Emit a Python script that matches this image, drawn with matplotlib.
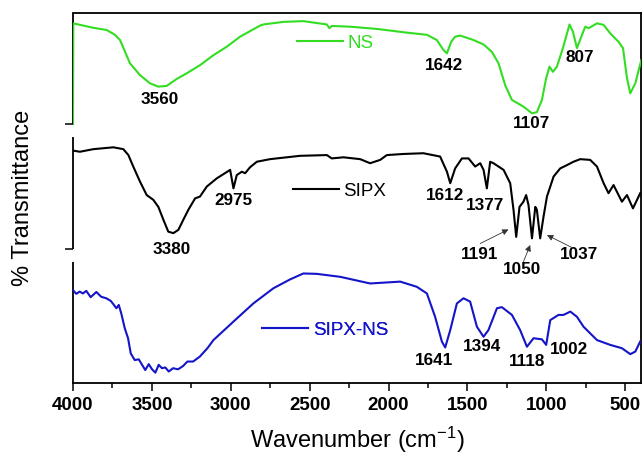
import matplotlib
matplotlib.use("Agg")
import matplotlib.pyplot as plt
from matplotlib.lines import Line2D
from matplotlib.ticker import MultipleLocator

plt.rcParams["mathtext.fontset"] = "custom"
plt.rcParams["mathtext.rm"] = "Liberation Sans"
plt.rcParams["mathtext.it"] = "Liberation Sans:italic"
plt.rcParams["mathtext.bf"] = "Liberation Sans:bold"

# ---- data (wavenumber in cm^-1, transmittance in arbitrary %) ----
ns_wn = [4000, 3998, 3871, 3786, 3734, 3702, 3670, 3639, 3575, 3512, 3459, 3406,
         3342, 3279, 3195, 3110, 3025, 2941, 2878, 2814, 2793, 2667, 2540, 2391,
         2375, 2360, 2244, 2074, 1906, 1757, 1694, 1652, 1630, 1603, 1578, 1546,
         1462, 1398, 1345, 1303, 1261, 1218, 1145, 1091, 1060, 1028, 1001, 980,
         958, 933, 895, 853, 831, 806, 774, 753, 732, 679, 637, 595, 542, 514,
         489, 468, 436, 398]
ns_t = [70.0, 97.2, 96.0, 95.4, 94.1, 92.7, 89.5, 86.4, 83.2, 81.0, 80.1, 80.3,
        82.2, 83.7, 85.9, 88.6, 90.9, 93.6, 95.1, 96.6, 96.9, 97.6, 97.8, 96.9,
        95.9, 96.5, 96.3, 95.7, 94.8, 94.1, 92.7, 90.0, 89.1, 92.2, 93.6, 93.9,
        92.7, 91.5, 89.5, 86.4, 80.5, 76.5, 74.7, 72.9, 73.2, 76.5, 82.4, 85.5,
        84.1, 85.5, 90.5, 96.9, 94.9, 90.5, 94.1, 96.3, 95.9, 97.2, 96.8, 94.5,
        92.2, 90.5, 82.4, 78.3, 81.0, 87.3]

sipx_wn = [3998, 3956, 3871, 3744, 3681, 3649, 3618, 3575, 3533, 3491, 3459, 3427,
           3396, 3364, 3332, 3301, 3269, 3226, 3195, 3152, 3089, 3004, 2983, 2962,
           2930, 2909, 2878, 2835, 2751, 2561, 2391, 2360, 2286, 2180, 2117, 2053,
           2011, 1906, 1779, 1673, 1630, 1609, 1578, 1535, 1493, 1451, 1419, 1398,
           1377, 1356, 1335, 1271, 1229, 1208, 1191, 1170, 1145, 1128, 1113, 1091,
           1070, 1060, 1039, 1018, 996, 954, 912, 869, 828, 785, 722, 679, 637,
           606, 574, 521, 489, 451, 405]
sipx_t = [62.8, 62.5, 63.2, 63.7, 63.2, 61.6, 58.5, 54.4, 50.8, 49.5, 47.6, 44.1,
          40.9, 40.5, 41.4, 44.1, 46.8, 49.9, 50.4, 53.1, 55.3, 57.6, 52.6, 56.2,
          57.1, 56.7, 58.3, 59.8, 60.5, 61.4, 61.6, 60.7, 61.0, 60.5, 59.4, 60.3,
          61.6, 61.9, 62.1, 61.2, 57.1, 54.0, 58.0, 60.7, 60.7, 58.5, 59.4, 57.6,
          52.6, 59.8, 59.4, 57.6, 54.0, 46.8, 39.5, 47.6, 49.0, 50.8, 48.1, 39.1,
          47.6, 46.8, 39.1, 44.9, 50.4, 55.8, 58.0, 58.9, 59.8, 60.5, 60.3, 58.5,
          54.0, 51.3, 53.5, 49.0, 50.8, 47.2, 51.3]

sipxns_wn = [4000, 3979, 3958, 3937, 3916, 3888, 3852, 3821, 3789, 3761, 3746, 3725,
             3710, 3694, 3672, 3651, 3634, 3609, 3583, 3562, 3542, 3520, 3499, 3478,
             3457, 3436, 3415, 3393, 3366, 3334, 3302, 3275, 3239, 3197, 3148, 3110,
             2983, 2857, 2730, 2624, 2540, 2455, 2307, 2117, 1926, 1821, 1757, 1705,
             1662, 1641, 1609, 1567, 1525, 1483, 1440, 1398, 1367, 1313, 1282, 1218,
             1166, 1123, 1081, 1028, 1001, 975, 923, 891, 848, 806, 764, 679, 595,
             521, 468, 436, 405]
sipxns_t = [25.1, 24.1, 24.7, 24.2, 24.9, 23.2, 24.6, 23.3, 22.9, 22.2, 21.4, 20.2,
            21.1, 18.8, 14.8, 12.1, 8.0, 6.2, 6.4, 4.9, 3.5, 5.1, 3.7, 2.8,
            4.9, 4.0, 4.2, 3.1, 4.0, 3.7, 4.6, 5.8, 5.8, 7.1, 9.4, 11.6,
            16.6, 21.5, 25.6, 28.0, 29.6, 29.5, 28.7, 26.9, 27.4, 26.0, 24.2, 17.9,
            11.2, 9.6, 14.3, 21.5, 22.9, 22.0, 15.2, 12.5, 14.3, 20.2, 20.5, 18.4,
            14.3, 9.8, 12.1, 11.8, 10.3, 17.0, 18.4, 18.4, 19.3, 17.9, 15.2, 11.6,
            10.3, 9.4, 7.8, 8.5, 11.2]

series_names = ["NS", "SIPX", "SIPX-NS"]
series_colors = ["#33dd22", "#000000", "#1414c8"]

# peak labels: (text, wavenumber, transmittance)
peak_labels = [("3560", 3448, 76.7), ("1642", 1648, 85.9), ("1107", 1091, 70.0),
               ("807", 791, 88.0), ("3380", 3374, 36.1), ("2975", 2984, 49.3),
               ("1612", 1641, 50.8), ("1377", 1388, 48.1),
               ("1641", 1715, 6.0), ("1394", 1408, 9.8), ("1118", 1123, 5.8),
               ("1002", 859, 9.1)]
# arrowed labels: (text, text_wn, text_t, tail_wn, tail_t, tip_wn, tip_t)
arrow_labels = [("1191", 1424, 34.6, 1419, 37.7, 1240, 41.5),
                ("1050", 1155, 30.7, 1145, 32.8, 1102, 37.3),
                ("1037", 796, 34.6, 828, 36.4, 996, 40.0)]

xticks = [4000, 3500, 3000, 2500, 2000, 1500, 1000, 500]
yticks = [36.2, 70.0]
# stacked-layer left axis pieces (lower, upper) in y units
left_axis_pieces = [(70.0, 100.0), (36.2, 66.5), (0.0, 32.7)]

fig = plt.figure(figsize=(6.43, 4.61), dpi=100)
ax = fig.add_axes([73 / 643, 78 / 461, 568 / 643, 370 / 461])

lw = 1.5
ax.plot(ns_wn, ns_t, color=series_colors[0], lw=lw, zorder=3)
ax.plot(sipx_wn, sipx_t, color=series_colors[1], lw=lw, zorder=3)
ax.plot(sipxns_wn, sipxns_t, color=series_colors[2], lw=lw, zorder=3)

ax.set_xlim(4000, 400)
ax.set_ylim(0, 100)

ax.set_xticks(xticks)
ax.xaxis.set_minor_locator(MultipleLocator(250))
ax.set_yticks(yticks)
ax.set_yticklabels([])
ax.tick_params(axis="both", which="major", direction="out", length=6, width=1.1,
               pad=4)
ax.tick_params(axis="x", which="minor", direction="out", length=3.5, width=1.1)
for lab in ax.get_xticklabels():
    lab.set_fontfamily("Liberation Sans")
    lab.set_fontweight("bold")
    lab.set_fontsize(13.5)
for sp in ax.spines.values():
    sp.set_linewidth(1.3)

# left axis drawn as separate pieces (one per stacked layer)
ax.spines["left"].set_visible(False)
for lo, hi in left_axis_pieces:
    ax.plot([0, 0], [lo, hi], transform=ax.get_yaxis_transform(), color="black",
            lw=1.3, clip_on=False, zorder=2, solid_capstyle="butt")

ax.set_xlabel(r"Wavenumber (cm$^{\mathregular{-1}}$)", fontsize=17,
              family="Liberation Sans", labelpad=8)
ax.set_ylabel("% Transmittance", fontsize=17, family="Liberation Sans", labelpad=18)

for txt, x, y in peak_labels:
    ax.text(x, y, txt, ha="center", va="center", fontsize=12.3, fontweight="bold",
            family="Liberation Sans")
for txt, tx, ty, ax0, ay0, ax1, ay1 in arrow_labels:
    ax.text(tx, ty, txt, ha="center", va="center", fontsize=12.3, fontweight="bold",
            family="Liberation Sans")
    ax.annotate("", xy=(ax1, ay1), xytext=(ax0, ay0),
                arrowprops=dict(arrowstyle="-|>", color="#333333", lw=0.6,
                                mutation_scale=9, shrinkA=0, shrinkB=0))

# in-plot series labels
leg_pos = [(0.394, 0.919), (0.387, 0.518), (0.333, 0.143)]
for name, col, (lx, ly) in zip(series_names, series_colors, leg_pos):
    h = Line2D([], [], color=col, lw=lw)
    lg = ax.legend(handles=[h], labels=[name], loc="center left",
                   bbox_to_anchor=(lx, ly), frameon=False, borderpad=0,
                   borderaxespad=0, handlelength=2.45, handletextpad=0.25,
                   prop={"family": "Liberation Sans", "size": 13.5},
                   labelcolor=col)
    ax.add_artist(lg)

fig.savefig("out.png", dpi=100)
